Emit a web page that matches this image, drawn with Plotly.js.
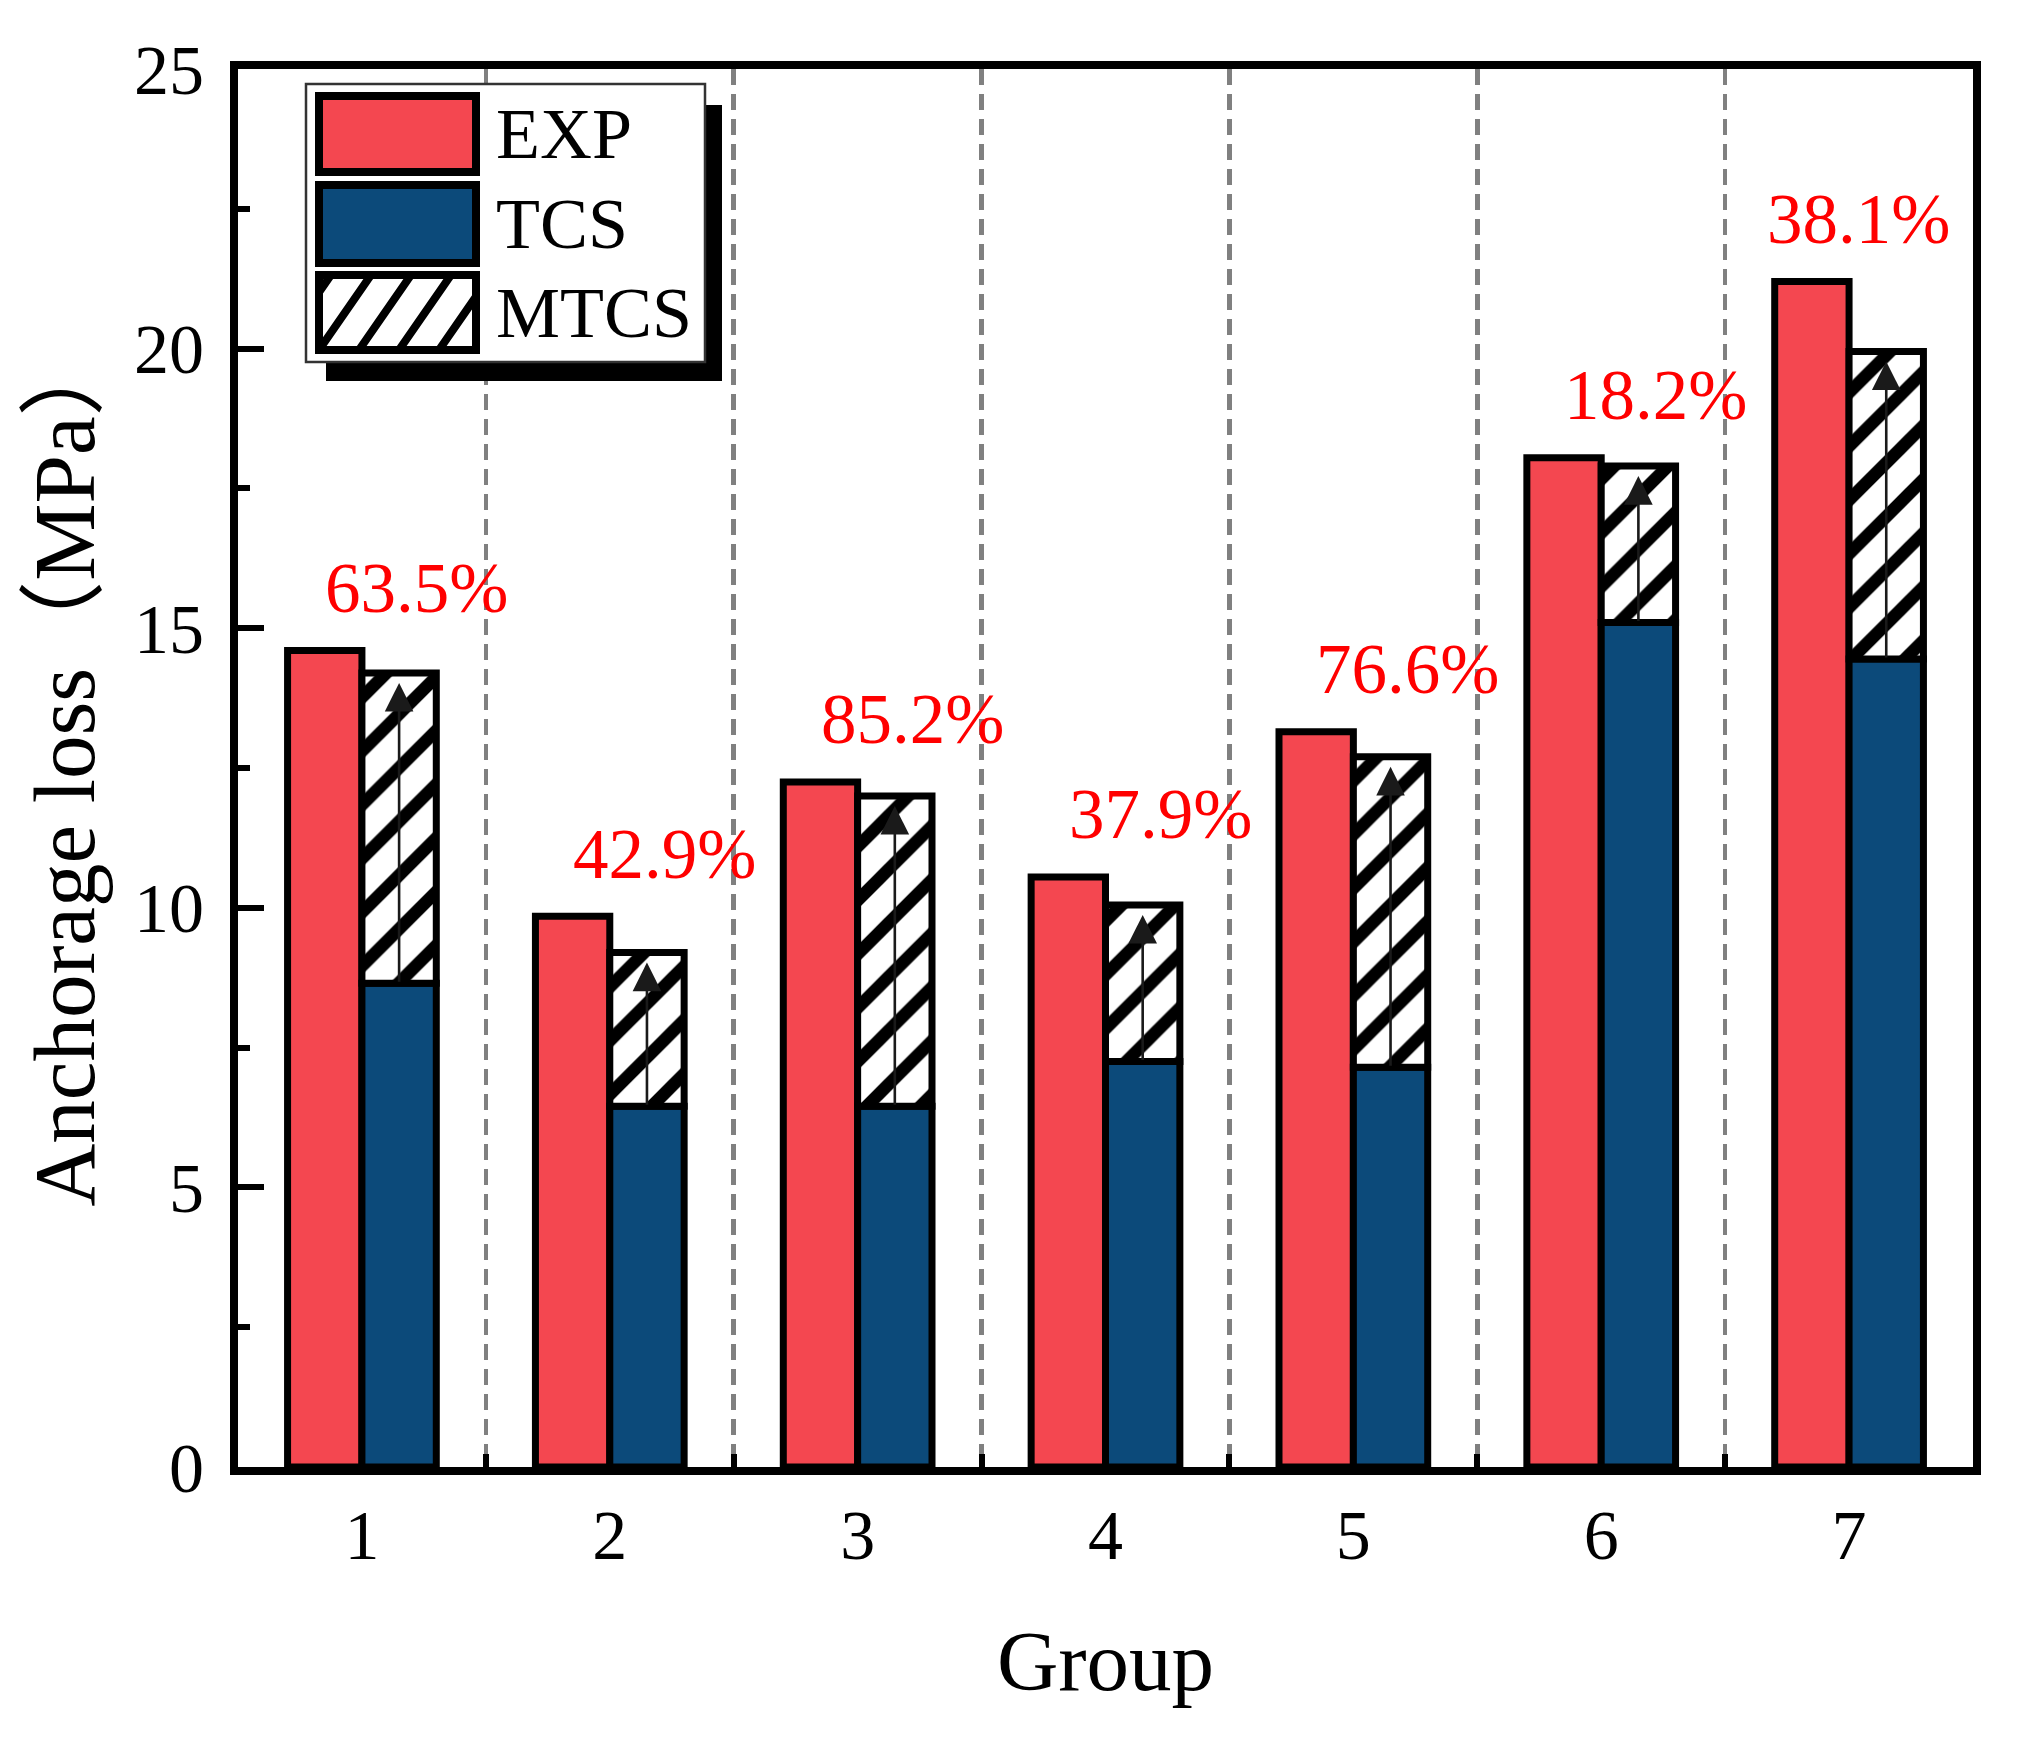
<!DOCTYPE html>
<html>
<head>
<meta charset="utf-8">
<script src="https://cdn.plot.ly/plotly-3.0.1.min.js"></script>
<style>
  html, body { margin: 0; padding: 0; background: #ffffff; }
  #chart { width: 2033px; height: 1754px; }
</style>
</head>
<body>
<div id="chart"></div>
<script>
// ---------------- data ----------------
const groups = [1, 2, 3, 4, 5, 6, 7];
const tickLabels = ['1', '2', '3', '4', '5', '6', '7'];
const expVals  = [14.6, 9.85, 12.25, 10.55, 13.15, 18.05, 21.2];
const tcsVals  = [8.65, 6.45, 6.45, 7.25, 7.15, 15.1, 14.45];
const mtcsVals = [14.2, 9.2, 12.0, 10.05, 12.7, 17.9, 19.95];
const pctLabels = ['63.5%', '42.9%', '85.2%', '37.9%', '76.6%', '18.2%', '38.1%'];
const seriesNames = ['EXP', 'TCS', 'MTCS'];

// ---------------- styles ----------------
const FONT = "'Liberation Serif', 'Times New Roman', 'Noto Sans CJK SC', serif";
const RED = '#F44750';
const BLUE = '#0C4A7A';
const BAR_W = 0.3;
const OUT = {color: '#000000', width: 7};

const traces = [
  {
    type: 'bar', name: seriesNames[0], x: groups, y: expVals,
    offset: -BAR_W, width: BAR_W,
    marker: {color: RED, line: OUT}, showlegend: false
  },
  {
    type: 'bar', name: seriesNames[1], x: groups, y: tcsVals,
    offset: 0, width: BAR_W,
    marker: {color: BLUE, line: OUT}, showlegend: false
  },
  {
    type: 'bar', name: seriesNames[2], x: groups,
    y: mtcsVals.map((v, i) => v - tcsVals[i]), base: tcsVals,
    offset: 0, width: BAR_W,
    customdata: mtcsVals,
    marker: {
      color: '#ffffff', line: OUT,
      pattern: {shape: '/', fgcolor: '#000000', bgcolor: '#ffffff', size: 38, solidity: 0.33}
    },
    showlegend: false
  }
];

// ---------------- annotations ----------------
const annotations = [];
// arrows inside MTCS bars (from TCS top to MTCS top)
groups.forEach((g, i) => {
  annotations.push({
    x: g + BAR_W / 2, y: mtcsVals[i], xref: 'x', yref: 'y',
    ax: g + BAR_W / 2, ay: tcsVals[i], axref: 'x', ayref: 'y',
    showarrow: true, arrowhead: 2, arrowsize: 2.2, arrowwidth: 2.6,
    arrowcolor: '#1a1a1a', standoff: 10, text: ''
  });
});
// percentage labels
groups.forEach((g, i) => {
  annotations.push({
    x: Math.min(g + 0.22, 7.04), y: Math.max(expVals[i], mtcsVals[i]) + 1.12,
    xref: 'x', yref: 'y', showarrow: false, text: pctLabels[i],
    xanchor: 'center', yanchor: 'middle',
    font: {family: FONT, size: 71, color: '#FF0000'}
  });
});

// ---------------- custom legend (paper coords) ----------------
const plotL = 238, plotR = 1973, plotT = 69, plotB = 1467;
const PW = plotR - plotL, PH = plotB - plotT;
const px = v => (v - plotL) / PW;
const py = v => (plotB - v) / PH;

const shapes = [];
// shadow
shapes.push({type: 'rect', xref: 'paper', yref: 'paper',
  x0: px(326), x1: px(722), y0: py(381), y1: py(105),
  fillcolor: '#000000', line: {width: 0}, layer: 'above'});
// legend box
shapes.push({type: 'rect', xref: 'paper', yref: 'paper',
  x0: px(306), x1: px(705), y0: py(362), y1: py(84),
  fillcolor: '#ffffff', line: {color: '#333333', width: 2.5}, layer: 'above'});

const swX0 = 319, swX1 = 476;
const swRows = [[96, 172], [185, 263], [275, 350]];
const swFill = [RED, BLUE, '#ffffff'];
swRows.forEach((r, k) => {
  shapes.push({type: 'rect', xref: 'paper', yref: 'paper',
    x0: px(swX0), x1: px(swX1), y0: py(r[1]), y1: py(r[0]),
    fillcolor: swFill[k], line: {color: '#000000', width: 8}, layer: 'above'});
});
const legTextY = [134, 224, 313];
seriesNames.forEach((nm, k) => {
  annotations.push({
    xref: 'paper', yref: 'paper', x: px(494), y: py(legTextY[k]),
    xanchor: 'left', yanchor: 'middle', showarrow: false,
    text: nm, font: {family: FONT, size: 72, color: '#000000'}
  });
});
// hatch lines in MTCS swatch
(function () {
  const [t, b] = swRows[2];
  const dx = 52, step = 40;
  let path = '';
  for (let c = swX0 - dx + 12; c < swX1; c += step) {
    let xa = c, ya = b, xb = c + dx, yb = t;
    const clip = (xv) => ya + (yb - ya) * (xv - xa) / (xb - xa);
    let x0 = xa, y0 = ya, x1 = xb, y1 = yb;
    if (x0 < swX0) { y0 = clip(swX0); x0 = swX0; }
    if (x1 > swX1) { y1 = clip(swX1); x1 = swX1; }
    if (x1 <= x0) continue;
    path += `M${px(x0)},${py(y0)} L${px(x1)},${py(y1)} `;
  }
  shapes.push({type: 'path', xref: 'paper', yref: 'paper', path: path,
    line: {color: '#000000', width: 8}, layer: 'above'});
  shapes.push({type: 'rect', xref: 'paper', yref: 'paper',
    x0: px(swX0), x1: px(swX1), y0: py(b), y1: py(t),
    fillcolor: 'rgba(0,0,0,0)', line: {color: '#000000', width: 8}, layer: 'above'});
})();

const layout = {
  width: 2033, height: 1754,
  paper_bgcolor: '#ffffff', plot_bgcolor: '#ffffff',
  margin: {l: plotL, r: 2033 - plotR, t: plotT, b: 1754 - plotB, pad: 0},
  barmode: 'overlay',
  showlegend: false,
  font: {family: FONT, color: '#000000'},
  xaxis: {
    range: [0.5, 7.5], tickmode: 'array', tickvals: groups, ticktext: tickLabels,
    ticks: 'inside', ticklen: 1, tickcolor: 'rgba(0,0,0,0)',
    tickfont: {family: FONT, size: 70, color: '#000000'},
    ticklabelstandoff: 0,
    showgrid: false, zeroline: false,
    showline: true, linecolor: '#000000', linewidth: 8, mirror: true,
    minor: {
      tickmode: 'linear', tick0: 0.5, dtick: 1,
      ticks: 'inside', ticklen: 13, tickwidth: 6, tickcolor: '#000000',
      showgrid: true, gridcolor: '#808080', griddash: '16px,9px', gridwidth: 4.5
    },
    title: {text: 'Group', font: {family: FONT, size: 85, color: '#000000'}, standoff: 60},
    automargin: false
  },
  yaxis: {
    range: [0, 25], tickmode: 'linear', tick0: 0, dtick: 5,
    ticks: 'inside', ticklen: 26, tickwidth: 6, tickcolor: '#000000',
    tickfont: {family: FONT, size: 70, color: '#000000'},
    ticklabelstandoff: 12,
    showgrid: false, zeroline: false,
    showline: true, linecolor: '#000000', linewidth: 8, mirror: true,
    minor: {tickmode: 'linear', tick0: 0, dtick: 2.5, ticks: 'inside', ticklen: 12, tickwidth: 6,
      tickcolor: '#000000', showgrid: false},
    title: {text: 'Anchorage loss（MPa）', font: {family: FONT, size: 87, color: '#000000'}, standoff: 14},
    automargin: false
  },
  annotations: annotations,
  shapes: shapes
};

Plotly.newPlot('chart', traces, layout, {staticPlot: true, displayModeBar: false});
</script>
</body>
</html>
